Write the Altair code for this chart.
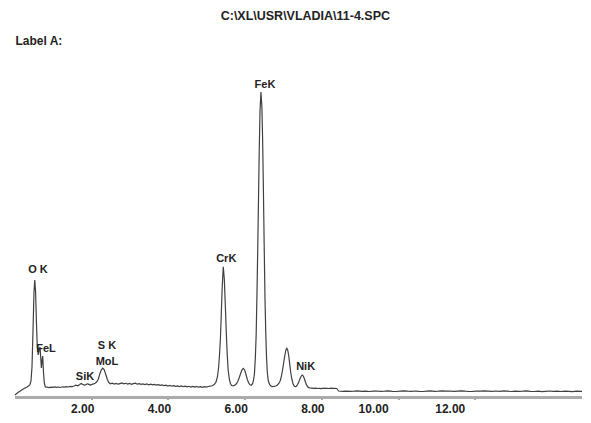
import altair as alt
import pandas as pd

# ---- spectrum (energy in keV, counts) ----
energy_kev = [
    0.01, 0.09, 0.17, 0.25, 0.33, 0.40, 0.43, 0.456, 0.482, 0.508, 0.529, 0.550,
    0.574, 0.594, 0.618, 0.644, 0.665, 0.686, 0.701, 0.717, 0.735, 0.756, 0.777, 0.803,
    0.85, 0.90, 0.95, 1.00, 1.05, 1.10, 1.15, 1.20, 1.25, 1.30, 1.35, 1.40, 1.45, 1.50,
    1.55, 1.60, 1.65, 1.70, 1.74, 1.78, 1.82, 1.86, 1.90, 1.94, 1.98, 2.02, 2.06, 2.10,
    2.14, 2.18, 2.22, 2.26, 2.30, 2.34, 2.38, 2.42, 2.46, 2.50, 2.55, 2.60, 2.65, 2.70,
    2.75, 2.80, 2.85, 2.90, 2.95, 3.00, 3.05, 3.10, 3.15, 3.20, 3.25, 3.30, 3.35, 3.40,
    3.45, 3.50, 3.55, 3.60, 3.65, 3.70, 3.75, 3.80, 3.85, 3.90, 3.95, 4.00, 4.05, 4.10,
    4.15, 4.20, 4.25, 4.30, 4.35, 4.40, 4.45, 4.50, 4.55, 4.60, 4.65, 4.70, 4.75, 4.80,
    4.85, 4.90, 4.95, 5.00, 5.05, 5.10,
    5.15, 5.20, 5.25, 5.29, 5.32, 5.345, 5.37, 5.39, 5.415, 5.443, 5.47, 5.495, 5.52,
    5.545, 5.57, 5.60, 5.63, 5.66, 5.70, 5.74, 5.78, 5.82, 5.86, 5.90, 5.935, 5.965,
    6.00, 6.035, 6.07, 6.105, 6.14, 6.175, 6.21, 6.23, 6.255, 6.28, 6.30, 6.32, 6.34,
    6.36, 6.38, 6.40, 6.425, 6.45, 6.47, 6.49, 6.51, 6.53, 6.55, 6.57, 6.59, 6.615,
    6.65, 6.69, 6.73, 6.77, 6.81, 6.85, 6.89, 6.93, 6.96, 6.99, 7.02, 7.05, 7.075,
    7.10, 7.125, 7.15, 7.175, 7.20, 7.23, 7.26, 7.29, 7.32, 7.35, 7.38, 7.41, 7.44,
    7.47, 7.50, 7.53, 7.56, 7.59, 7.62, 7.66, 7.70, 7.75, 7.80,
    7.85, 7.90, 7.95, 8.00, 8.05, 8.10, 8.15, 8.20, 8.25, 8.30, 8.35, 8.40,
    8.45, 8.55, 8.65, 8.75, 8.85, 8.95, 9.05, 9.15, 9.25, 9.35, 9.45, 9.55, 9.65,
    9.75, 9.85, 9.95, 10.05, 10.15, 10.25, 10.35, 10.45, 10.55, 10.65, 10.75, 10.85,
    10.95, 11.05, 11.15, 11.25, 11.35, 11.45, 11.55, 11.65, 11.75, 11.85, 11.95,
    12.05, 12.15, 12.25, 12.35, 12.45, 12.55, 12.65, 12.75, 12.85, 12.95, 13.05,
    13.15, 13.25, 13.35, 13.45, 13.55, 13.65, 13.75, 13.85, 13.95, 14.05, 14.15,
    14.25, 14.35, 14.45, 14.55, 14.65, 14.75, 14.85,
]
counts = [
    20, 45, 65, 85, 100, 120, 160, 300, 660, 1050, 1170, 1050,
    720, 500, 420, 470, 500, 380, 290, 360, 410, 250, 140, 100,
    98, 94, 99, 96, 101, 97, 100, 95, 102, 99, 104, 100, 106, 103,
    110, 118, 112, 124, 135, 126, 118, 124, 132, 126, 120, 126, 131, 138,
    150, 175, 225, 270, 288, 272, 225, 175, 145, 132, 138, 130, 136, 128,
    134, 140, 131, 137, 129, 135, 127, 133, 138, 128, 134, 126, 131, 124,
    130, 122, 128, 121, 126, 119, 124, 116, 121, 113, 118, 110, 115, 108,
    113, 106, 111, 104, 110, 103, 108, 101, 107, 100, 106, 99, 105, 98,
    104, 97, 103, 99, 105, 108,
    112, 122, 145, 200, 290, 420, 600, 820, 1100, 1303, 1180, 930, 660,
    430, 270, 180, 135, 115, 112, 118, 130, 155, 195, 240, 275, 287,
    270, 225, 175, 140, 122, 118, 135, 165, 230, 400, 620, 1000, 1450,
    1950, 2450, 2850, 3050, 2900, 2550, 2050, 1500, 1000, 650, 400, 250, 165,
    125, 108, 104, 106, 110, 118, 135, 165, 210, 275, 350, 420, 470,
    487, 465, 410, 330, 250, 180, 135, 110, 103, 108, 125, 150, 180,
    205, 220, 210, 180, 145, 115, 96, 90, 88, 86,
    88, 85, 87, 84, 88, 86, 87, 85, 88, 86, 87, 85,
    60, 57, 59, 56, 58, 61, 57, 59, 55, 58, 60, 56, 58,
    61, 57, 55, 59, 62, 58, 56, 60, 57, 55, 58, 61,
    57, 59, 62, 58, 60, 56, 59, 62, 58, 55, 57,
    60, 58, 62, 59, 56, 60, 57, 61, 58, 55, 59,
    56, 58, 61, 57, 55, 58, 54, 57, 60, 56, 58,
    55, 59, 57, 54, 58, 56, 57,
]

# ---- peak labels ----
peak_names = ["O K", "FeL", "SiK", "S K", "MoL", "CrK", "FeK", "NiK"]
peak_kev = [0.613, 0.821, 1.838, 2.411, 2.411, 5.52, 6.53, 7.59]
peak_counts = [1270, 480, 200, 510, 350, 1380, 3120, 295]

tick_values = [2, 4, 6, 8, 10, 12]
title_text = "C:\\XL\\USR\\VLADIA\\11-4.SPC"
label_text = "Label A:"

FONT = "Liberation Sans"

spec = pd.DataFrame({"keV": energy_kev, "counts": counts})
peaks = pd.DataFrame({"name": peak_names, "keV": peak_kev, "counts": peak_counts})

x_scale = alt.Scale(domain=[0, 14.8], nice=False, zero=False)
y_scale = alt.Scale(domain=[0, 3170], nice=False)

x_axis = alt.Axis(
    values=tick_values,
    format=".2f",
    title=None,
    grid=False,
    domainColor="#ababab",
    domainWidth=3,
    tickColor="#444444",
    tickSize=2,
    tickWidth=2,
    labelFont=FONT,
    labelFontSize=12,
    labelFontWeight="bold",
    labelColor="#222222",
    labelPadding=5,
    labelOffset={"condition": {"test": "datum.value >= 10", "value": -25}, "value": -9},
)
y_axis = alt.Axis(
    title=label_text,
    labels=False,
    ticks=False,
    domain=False,
    grid=False,
    titleAngle=0,
    titleX=0.5,
    titleY=-40,
    titleAlign="left",
    titleBaseline="middle",
    titleFont=FONT,
    titleFontSize=12,
    titleFontWeight="bold",
    titleColor="#222222",
)

line = alt.Chart(spec).mark_line(color="#404040", strokeWidth=1.2, clip=True).encode(
    x=alt.X("keV:Q", scale=x_scale, axis=x_axis),
    y=alt.Y("counts:Q", scale=y_scale, axis=y_axis),
)

text = alt.Chart(peaks).mark_text(
    font=FONT, fontSize=11, fontWeight="bold", color="#222222",
    align="center", baseline="middle",
).encode(
    x=alt.X("keV:Q", scale=x_scale),
    y=alt.Y("counts:Q", scale=y_scale),
    text="name:N",
)

chart = alt.layer(line, text).properties(
    width=567.7,
    height=317,
    padding={"left": 6.5, "top": 72, "right": 0, "bottom": 18},
    autosize=alt.AutoSizeParams(type="none"),
    title=alt.TitleParams(
        text=title_text,
        font=FONT,
        fontSize=12.5,
        fontWeight="bold",
        color="#222222",
        anchor="middle",
        frame="group",
        baseline="alphabetic",
        offset=2,
        dx=7,
    ),
).configure_view(stroke=None)

chart.save("out.html", embed_options={"renderer": "svg", "actions": False})
